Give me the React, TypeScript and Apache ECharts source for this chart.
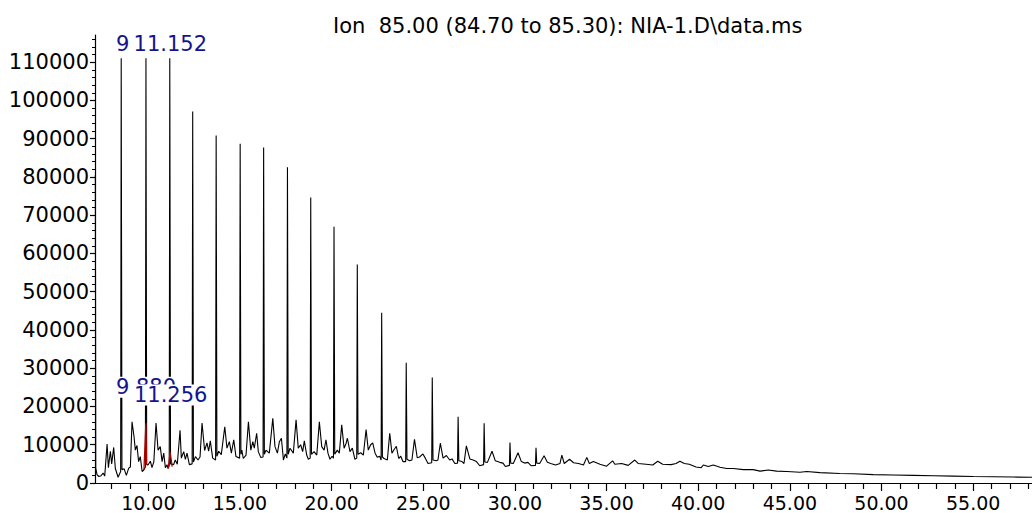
import React, { useEffect, useRef } from "react";
import * as echarts from "echarts";

const titleText = "Ion  85.00 (84.70 to 85.30): NIA-1.D\\data.ms";

// major x labels / ticks (minutes)
const xMajorTicks = [10, 15, 20, 25, 30, 35, 40, 45, 50, 55];
const xMinorTicks = [8, 9, 11, 12, 13, 14, 16, 17, 18, 19, 21, 22, 23, 24, 26, 27, 28, 29, 31, 32, 33, 34, 36, 37, 38, 39, 41, 42, 43, 44, 46, 47, 48, 49, 51, 52, 53, 54, 56, 57, 58];
const yMajorTicks = [0, 10000, 20000, 30000, 40000, 50000, 60000, 70000, 80000, 90000, 100000, 110000];
const yMinorTicks = [2000, 4000, 6000, 8000, 12000, 14000, 16000, 18000, 22000, 24000, 26000, 28000, 32000, 34000, 36000, 38000, 42000, 44000, 46000, 48000, 52000, 54000, 56000, 58000, 62000, 64000, 66000, 68000, 72000, 74000, 76000, 78000, 82000, 84000, 86000, 88000, 92000, 94000, 96000, 98000, 102000, 104000, 106000, 108000, 112000, 114000, 116000];

// main n-alkane peaks: retention time (min) and abundance
const alkaneTimes = [8.52, 9.87, 11.17, 12.42, 13.7, 15.01, 16.29, 17.59, 18.86, 20.13, 21.4, 22.73, 24.07, 25.49, 26.9, 28.32, 29.73, 31.15];
const alkaneHeights = [111000, 111000, 111000, 97100, 90800, 88700, 87700, 82500, 74600, 67000, 57100, 44500, 31400, 27600, 17300, 15600, 10600, 9200];

// background trace (time, abundance)
const tracePoints: [number, number][] = [
  [7.11, 80500], [7.13, 3900], [7.2, 2200], [7.3, 1700], [7.42, 1900], [7.53, 2600], [7.62, 1800],
  [7.75, 10200], [7.82, 4000], [7.93, 8300], [8.0, 5000], [8.11, 9300], [8.2, 3800], [8.35, 1500],
  [8.49, 3000], [8.56, 3500], [8.68, 3700], [8.8, 2000], [8.93, 3900], [9.02, 4200], [9.11, 16000],
  [9.22, 12100], [9.29, 8600], [9.38, 9800], [9.47, 5600], [9.56, 6900], [9.66, 3000], [9.75, 3400],
  [9.84, 4200], [9.91, 4800], [9.98, 4700], [10.11, 5700], [10.2, 4000], [10.3, 5600], [10.42, 15700],
  [10.53, 8600], [10.65, 9500], [10.75, 5600], [10.84, 7800], [10.93, 4000], [11.02, 4800], [11.07, 3800],
  [11.14, 4500], [11.21, 5000], [11.38, 4800], [11.47, 6000], [11.58, 4900], [11.73, 13800], [11.8, 6500],
  [11.93, 8200], [12.02, 6200], [12.11, 7800], [12.24, 4800], [12.39, 5000], [12.46, 5500], [12.57, 6900],
  [12.71, 6000], [12.82, 6800], [12.93, 15700], [13.07, 8500], [13.2, 10500], [13.29, 8300], [13.38, 11000],
  [13.51, 6500], [13.67, 6000], [13.74, 7000], [13.84, 8300], [13.98, 7400], [14.17, 14700], [14.29, 9100],
  [14.42, 10800], [14.53, 7800], [14.66, 11300], [14.78, 6900], [14.98, 6500], [15.05, 7500], [15.1, 8600],
  [15.18, 6400], [15.33, 7300], [15.46, 16000], [15.59, 8600], [15.7, 10800], [15.78, 9100], [15.91, 13000],
  [16.0, 8200], [16.13, 6700], [16.26, 6800], [16.33, 7500], [16.42, 8600], [16.6, 7800], [16.79, 16900],
  [16.91, 9500], [17.04, 7800], [17.15, 10800], [17.26, 11700], [17.37, 6000], [17.47, 7600], [17.56, 6500],
  [17.63, 7500], [17.73, 9100], [17.91, 7800], [18.06, 16500], [18.18, 9100], [18.31, 10000], [18.42, 8200],
  [18.51, 11000], [18.64, 7300], [18.73, 6200], [18.83, 6500], [18.9, 7500], [19.04, 8200], [19.19, 7300],
  [19.33, 16000], [19.46, 9500], [19.59, 8600], [19.69, 11300], [19.8, 7800], [19.91, 6200], [20.02, 7000],
  [20.1, 6500], [20.17, 7500], [20.31, 8600], [20.42, 7800], [20.55, 15200], [20.68, 9100], [20.79, 10400],
  [20.86, 11700], [21.0, 8200], [21.13, 9100], [21.27, 6200], [21.37, 6500], [21.44, 7500], [21.59, 7900],
  [21.73, 7300], [21.88, 14000], [22.0, 8600], [22.13, 10000], [22.24, 10500], [22.37, 7800], [22.49, 6700],
  [22.62, 7000], [22.7, 6000], [22.77, 6800], [22.86, 6400], [23.04, 6000], [23.17, 13000], [23.29, 7800],
  [23.4, 8700], [23.53, 9600], [23.66, 6400], [23.77, 7000], [23.89, 5600], [24.04, 5600], [24.11, 6200],
  [24.25, 5800], [24.38, 6000], [24.52, 11400], [24.67, 6600], [24.8, 6800], [24.98, 7600], [25.11, 6500],
  [25.26, 5100], [25.46, 5300], [25.53, 6000], [25.71, 5800], [25.8, 6000], [25.93, 10400], [26.08, 6500],
  [26.26, 7200], [26.44, 6000], [26.57, 6300], [26.72, 5100], [26.87, 5200], [26.94, 5800], [27.11, 5600],
  [27.22, 5100], [27.35, 9700], [27.54, 6300], [27.72, 6000], [27.9, 5600], [28.08, 4500], [28.29, 4800],
  [28.36, 5500], [28.5, 5400], [28.75, 8300], [28.93, 5800], [29.17, 5400], [29.35, 5200], [29.48, 4300],
  [29.7, 4600], [29.77, 5200], [29.91, 5100], [30.17, 7900], [30.35, 5600], [30.53, 5200], [30.71, 5400],
  [30.89, 4500], [31.12, 4600], [31.19, 5200], [31.35, 5100], [31.59, 7100], [31.77, 5400], [31.95, 5100],
  [32.22, 4700], [32.46, 5100], [32.56, 7300], [32.69, 5100], [32.98, 6200], [33.2, 5300], [33.47, 5100],
  [33.74, 4700], [33.92, 6700], [34.06, 5100], [34.28, 5600], [34.64, 4900], [35.0, 4400], [35.33, 5800],
  [35.45, 4900], [35.82, 5100], [36.18, 4600], [36.54, 6000], [36.72, 5100], [37.15, 4900], [37.52, 4700],
  [37.79, 5700], [38.06, 4900], [38.52, 4800], [38.79, 5100], [39.0, 5700], [39.24, 5100], [39.51, 4900],
  [39.88, 4200], [40.16, 4000], [40.28, 4700], [40.55, 4300], [40.82, 4700], [41.19, 4100], [41.55, 3800],
  [41.91, 3800], [42.46, 3500], [43.0, 3500], [43.37, 3100], [43.82, 3400], [44.28, 3100], [44.83, 3000],
  [45.55, 2800], [45.92, 3000], [46.64, 2700], [47.73, 2500], [48.46, 2400], [49.55, 2200], [50.64, 2100],
  [51.73, 2000], [52.83, 1900], [53.92, 1800], [55.01, 1700], [56.1, 1650], [57.19, 1550], [58.3, 1500],
];

// integrated (red) peaks
const redPeakA: [number, number][] = [[9.76, 3400], [9.865, 15600], [9.9, 4800]];
const redPeakB: [number, number][] = [[11.08, 3800], [11.19, 8000], [11.3, 4300]];

// retention-time annotations: [time, label height, text]
const peakLabels: [number, number, string][] = [
  [9.87, 114700, "9.880"],
  [11.2, 114700, "11.152"],
  [9.87, 25000, "9.880"],
  [11.22, 23000, "11.256"],
];

const FONT = "'DejaVu Sans'";

export default function App() {
  const ref = useRef<HTMLDivElement>(null);
  useEffect(() => {
    if (!ref.current) return;
    const chart = echarts.init(ref.current, null, { renderer: "svg" });
    const peaks: [number, number][] = alkaneTimes.map((t, i) => [t, alkaneHeights[i]]);
    const trace = [...tracePoints, ...peaks].sort((a, b) => a[0] - b[0]);
    chart.setOption({
      animation: false,
      backgroundColor: "#ffffff",
      title: {
        text: titleText,
        left: 333,
        top: 15,
        padding: 0,
        textStyle: { fontFamily: FONT, fontSize: 21, fontWeight: "normal", color: "#000", lineHeight: 22 },
      },
      grid: { left: 95, right: 0, top: 35, bottom: 30, containLabel: false },
      xAxis: [
        {
          type: "value",
          position: "bottom",
          min: 7.09,
          max: 58.21,
          axisLine: { show: true, lineStyle: { color: "#000", width: 1.2 } },
          axisTick: { show: true, length: 8, customValues: xMajorTicks, lineStyle: { color: "#000", width: 1.2 } },
          axisLabel: {
            show: true,
            customValues: xMajorTicks,
            margin: 13,
            fontFamily: FONT,
            fontSize: 19,
            lineHeight: 14,
            color: "#000",
            formatter: (v: number) => v.toFixed(2),
          },
          splitLine: { show: false },
        },
        {
          type: "value",
          position: "bottom",
          min: 7.09,
          max: 58.21,
          axisLine: { show: false },
          axisTick: { show: true, length: 6, customValues: xMinorTicks, lineStyle: { color: "#000", width: 1.2 } },
          axisLabel: { show: false },
          splitLine: { show: false },
        },
      ],
      yAxis: [
        {
          type: "value",
          position: "left",
          min: 0,
          max: 117100,
          axisLine: { show: true, lineStyle: { color: "#000", width: 1.2 } },
          axisTick: { show: true, length: 5, customValues: yMajorTicks, lineStyle: { color: "#000", width: 1.2 } },
          axisLabel: {
            show: true,
            customValues: yMajorTicks,
            margin: 6,
            fontFamily: FONT,
            fontSize: 21,
            color: "#000",
            formatter: (v: number) => String(Math.round(v)),
          },
          splitLine: { show: false },
        },
        {
          type: "value",
          position: "left",
          min: 0,
          max: 117100,
          axisLine: { show: false },
          axisTick: { show: true, length: 3, customValues: yMinorTicks, lineStyle: { color: "#000", width: 1 } },
          axisLabel: { show: false },
          splitLine: { show: false },
        },
      ],
      series: [
        {
          type: "line",
          data: trace,
          symbol: "none",
          lineStyle: { color: "#000", width: 1.1 },
          silent: true,
          z: 2,
        },
        {
          type: "line",
          data: redPeakA,
          symbol: "none",
          lineStyle: { color: "#b00000", width: 1.3 },
          silent: true,
          z: 3,
        },
        {
          type: "line",
          data: redPeakB,
          symbol: "none",
          lineStyle: { color: "#b00000", width: 1.3 },
          silent: true,
          z: 3,
        },
        {
          type: "scatter",
          data: peakLabels,
          symbolSize: 0,
          silent: true,
          z: 5,
          itemStyle: { opacity: 1 },
          label: {
            show: true,
            position: [0, 0],
            align: "center",
            verticalAlign: "middle",
            formatter: (p: any) => p.value[2],
            fontFamily: FONT,
            fontSize: 21,
            color: "#14148c",
            backgroundColor: "#ffffff",
            lineHeight: 17,
            padding: [4, 4, 0, 4],
          },
        },
      ],
    });
    return () => chart.dispose();
  }, []);
  return <div ref={ref} style={{ position: "absolute", left: 0, top: 0, width: 1032, height: 513 }} />;
}
